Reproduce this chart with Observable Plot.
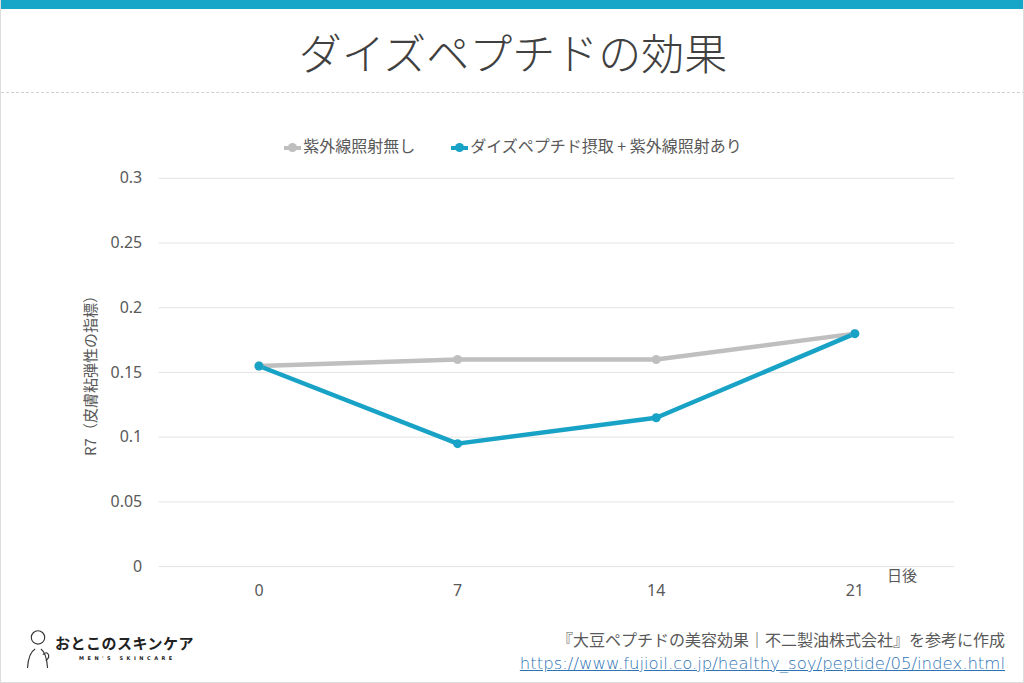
<!DOCTYPE html>
<html><head><meta charset="utf-8">
<script src="https://cdn.jsdelivr.net/npm/d3@7"></script>
<script src="https://cdn.jsdelivr.net/npm/@observablehq/plot@0.6"></script>
<style>
html,body{margin:0;padding:0;background:#fff;}
#page{position:relative;width:1024px;height:683px;overflow:hidden;font-family:"Noto Sans CJK JP","Noto Sans",sans-serif;box-sizing:border-box;border-left:1px solid #ddd;border-right:1px solid #ddd;border-bottom:1px solid #ddd;}
#topbar{position:absolute;left:0;top:0;width:1024px;height:9px;background:#17a5c8;}
#title{position:absolute;left:0;top:20px;width:1024px;text-align:center;font-size:43px;font-weight:300;color:#404040;}
#dash{position:absolute;left:0;top:92px;width:1024px;border-top:1px dashed #d0d0d0;}
#legend{position:absolute;left:0;top:133px;width:1024px;text-align:center;font-size:16px;color:#595959;}
.li{display:inline-block;margin:0 18px;}
.sw{display:inline-block;width:17px;height:4px;vertical-align:middle;position:relative;margin-right:2px;}
.sw i{position:absolute;left:4px;top:-3px;width:9px;height:9px;border-radius:50%;}
#chart{position:absolute;left:0;top:100px;}
#ylab{position:absolute;left:88px;top:372px;transform:translate(-50%,-50%) rotate(-90deg);font-size:15px;color:#595959;white-space:nowrap;}
#xunit{position:absolute;left:886px;top:564px;font-size:15px;color:#595959;}
#logo{position:absolute;left:22px;top:626px;}
#logo .jp{position:absolute;left:32px;top:6px;font-size:15px;font-weight:700;color:#222;white-space:nowrap;letter-spacing:0.5px;}
#logo .en{position:absolute;left:56px;top:29px;font-size:5px;font-weight:700;letter-spacing:3.5px;color:#222;white-space:nowrap;font-family:"DejaVu Sans";}
#src{position:absolute;right:18px;top:628px;text-align:right;font-size:16px;color:#595959;line-height:23px;}
#src div{white-space:nowrap;}
#src a{color:#2e74b5;text-decoration:underline;font-family:"DejaVu Sans";font-size:16.5px;font-weight:300;}
</style></head>
<body>
<div id="page">
<div id="topbar"></div>
<div id="title">ダイズペプチドの効果</div>
<div id="dash"></div>
<div id="legend"></div>
<div id="chart"></div>
<div id="ylab">R7（皮膚粘弾性の指標）</div>
<div id="xunit">日後</div>
<div id="logo">
<svg width="30" height="44" viewBox="0 0 30 46"><g fill="none" stroke="#333" stroke-width="1.2"><circle cx="15" cy="12" r="7"/><path d="M4 44 Q5 28 12 24 M18 24 Q24 28 25 44 M20 30 q4 -4 6 0 q1 4 -3 6"/></g></svg>
<div class="jp">おとこのスキンケア</div>
<div class="en">MEN'S SKINCARE</div>
</div>
<div id="src"><div>『大豆ペプチドの美容効果｜不二製油株式会社』を参考に作成</div><div><a>https://www.fujioil.co.jp/healthy_soy/peptide/05/index.html</a></div></div>
</div>
<script>
const days = [0, 7, 14, 21];
const seriesNames = ["紫外線照射無し", "ダイズペプチド摂取 + 紫外線照射あり"];
const controlValues = [0.155, 0.16, 0.16, 0.18];
const peptideValues = [0.155, 0.095, 0.115, 0.18];
const colors = ["#bfbfbf", "#17a2c6"];
const yTicks = [0, 0.05, 0.1, 0.15, 0.2, 0.25, 0.3];

const data = [];
days.forEach((d, i) => {
  data.push({day: d, value: controlValues[i], series: seriesNames[0]});
  data.push({day: d, value: peptideValues[i], series: seriesNames[1]});
});

const leg = document.getElementById("legend");
leg.innerHTML = seriesNames.map((n, i) =>
  `<span class="li"><span class="sw" style="background:${colors[i]}"><i style="background:${colors[i]}"></i></span>${n}</span>`).join("");

const chart = Plot.plot({
  width: 1024,
  height: 520,
  marginLeft: 158,
  marginRight: 69,
  marginTop: 78,
  marginBottom: 53,
  style: {fontFamily: "'Noto Sans','Open Sans',sans-serif", fontSize: "16px", color: "#595959", background: "transparent"},
  x: {type: "point", domain: days, padding: 0.5, label: null},
  y: {domain: [0, 0.3], label: null},
  color: {domain: seriesNames, range: colors},
  marks: [
    Plot.ruleY(yTicks, {stroke: "#e3e3e3", strokeWidth: 1}),
    Plot.axisY({ticks: yTicks, tickSize: 0, tickPadding: 17, tickFormat: d => String(d), fontSize: 16}),
    Plot.axisX({tickSize: 0, tickPadding: 18, fontSize: 16}),
    Plot.line(data, {x: "day", y: "value", stroke: "series", z: "series", strokeWidth: 4.5, strokeLinejoin: "round"}),
    Plot.dot(data, {x: "day", y: "value", fill: "series", r: 4.5})
  ]
});
document.getElementById("chart").appendChild(chart);
</script>
</body></html>
